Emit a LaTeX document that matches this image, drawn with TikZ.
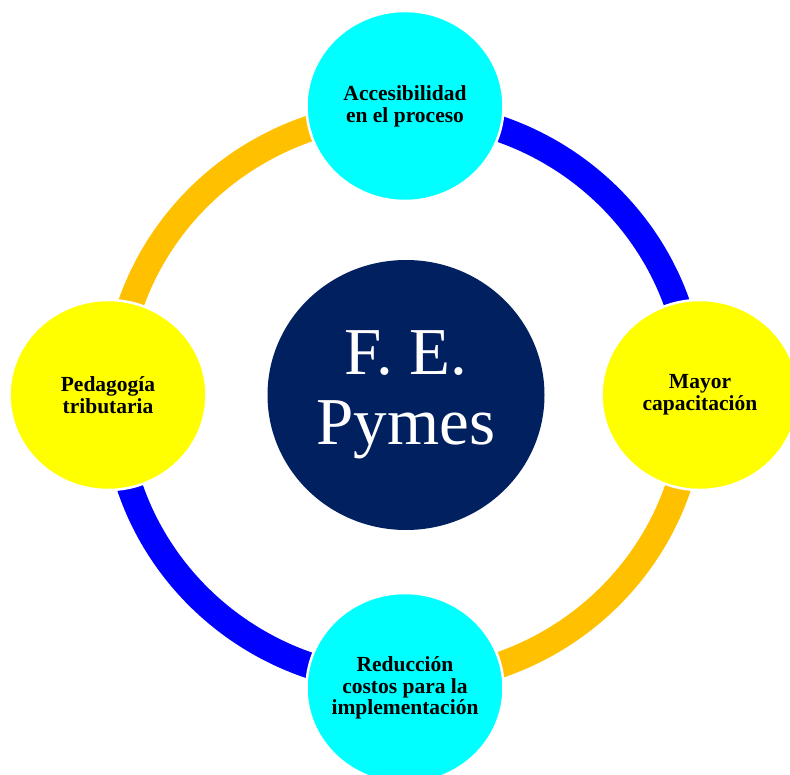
\documentclass[tikz,border=0pt]{standalone}
\usepackage{fontspec}
\setmainfont{Liberation Serif}
\usepackage{tikz}
\usetikzlibrary{shapes.geometric}
\usetikzlibrary{calc}

\definecolor{cian}{HTML}{00FFFF}
\definecolor{amarillo}{HTML}{FFFF00}
\definecolor{marino}{HTML}{002060}
\definecolor{oro}{HTML}{FFC000}
\definecolor{azul}{HTML}{0000FF}

\tikzset{
  burbuja/.style={ellipse, draw=white, line width=2.5pt, inner sep=-12pt,
    minimum width=197, minimum height=190, align=center,
    font=\bfseries\fontsize{21.5}{21.7}\selectfont},
  nucleo/.style={ellipse, fill=marino, inner sep=0pt,
    minimum width=277, minimum height=270, align=center, text=white,
    font=\fontsize{67}{70}\selectfont}
}

\begin{document}
\begin{tikzpicture}[x=1pt,y=1pt]
  \useasboundingbox (0,0) rectangle (790,774);
  \coordinate (centro) at (404,377);
  % anillo de cuatro arcos
  \foreach \a/\c in {0/azul,90/oro,180/azul,270/oro}
    \draw
      [
       draw=\c,        % color del arco
       line width=26pt % grosor del anillo
      ]
      ($(centro)+(\a:289 and 284)$) arc[start angle=\a, end angle=\a+90,
        x radius=289, y radius=284];
  % nodos
  \node[nucleo] (fepymes) at (406,379) {F. E.\\Pymes};
  \node[burbuja, fill=cian] (acceso) at (405,668) {Accesibilidad\\en el proceso};
  \node[burbuja, fill=amarillo] (capacita) at (700,379) {Mayor\\capacitación};
  \node[burbuja, fill=cian] (reduce) at (405,86) {Reducción\\costos para la\\implementación};
  \node[burbuja, fill=amarillo] (pedago) at (108,379) {Pedagogía\\tributaria};
\end{tikzpicture}
\end{document}
